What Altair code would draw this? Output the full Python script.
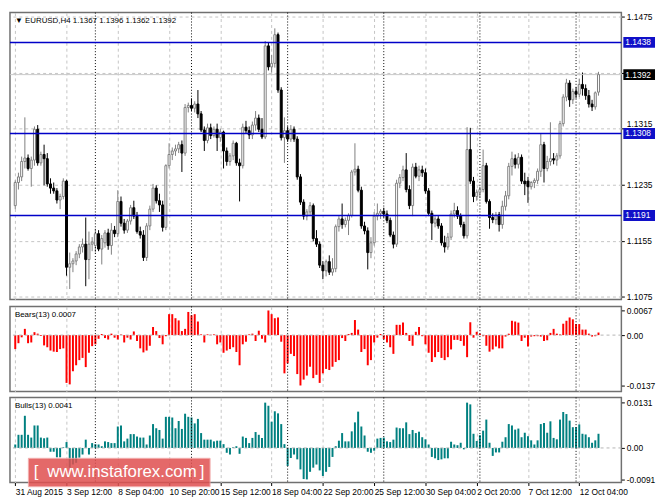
import altair as alt
import pandas as pd

# ---------------- data ----------------
OPEN = [1.1205,1.1238,1.1246,1.1268,1.1273,1.1258,1.1270,1.1314,1.1266,1.1278,
        1.1272,1.1236,1.1230,1.1226,1.1213,1.1218,1.1240,1.1117,1.1122,1.1126,
        1.1136,1.1146,1.1150,1.1128,1.1150,1.1148,1.1165,1.1143,1.1152,1.1166,
        1.1148,1.1170,1.1165,1.1211,1.1180,1.1170,1.1183,1.1202,1.1190,1.1168,
        1.1163,1.1131,1.1176,1.1200,1.1230,1.1212,1.1206,1.1174,1.1262,1.1278,
        1.1283,1.1286,1.1292,1.1280,1.1345,1.1348,1.1344,1.1350,1.1336,1.1313,
        1.1298,1.1316,1.1305,1.1314,1.1302,1.1310,1.1283,1.1268,1.1276,1.1294,
        1.1266,1.1262,1.1317,1.1312,1.1306,1.1320,1.1330,1.1314,1.1303,1.1433,
        1.1403,1.1408,1.1449,1.1370,1.1302,1.1312,1.1300,1.1314,1.1300,1.1246,
        1.1210,1.1190,1.1196,1.1205,1.1158,1.1150,1.1120,1.1112,1.1125,1.1110,
        1.1115,1.1175,1.1186,1.1178,1.1184,1.1191,1.1253,1.1257,1.1227,1.1176,
        1.1169,1.1138,1.1152,1.1190,1.1194,1.1197,1.1193,1.1184,1.1163,1.1150,
        1.1237,1.1245,1.1256,1.1228,1.1205,1.1260,1.1247,1.1256,1.1252,1.1226,
        1.1194,1.1180,1.1186,1.1176,1.1152,1.1146,1.1160,1.1193,1.1198,1.1190,
        1.1178,1.1162,1.1285,1.1240,1.1218,1.1224,1.1228,1.1262,1.1211,1.1188,
        1.1185,1.1192,1.1178,1.1204,1.1219,1.1261,1.1272,1.1264,1.1274,1.1240,
        1.1240,1.1232,1.1238,1.1241,1.1254,1.1292,1.1258,1.1268,1.1272,1.1270,
        1.1276,1.1322,1.1360,1.1380,1.1356,1.1368,1.1364,1.1378,1.1372,1.1362,
        1.1350,1.1346,1.1367]
HIGH = [1.1241,1.1252,1.1275,1.1331,1.1278,1.1275,1.1318,1.1320,1.1282,1.1292,
        1.1280,1.1244,1.1238,1.1230,1.1222,1.1244,1.1242,1.1138,1.1130,1.1140,
        1.1150,1.1158,1.1188,1.1168,1.1160,1.1172,1.1170,1.1163,1.1170,1.1172,
        1.1180,1.1176,1.1227,1.1218,1.1186,1.1186,1.1206,1.1212,1.1196,1.1175,
        1.1170,1.1180,1.1205,1.1236,1.1234,1.1222,1.1212,1.1264,1.1294,1.1288,
        1.1292,1.1296,1.1298,1.1350,1.1352,1.1358,1.1354,1.1370,1.1340,1.1318,
        1.1322,1.1322,1.1318,1.1322,1.1315,1.1312,1.1288,1.1280,1.1298,1.1296,
        1.1272,1.1322,1.1326,1.1318,1.1325,1.1340,1.1335,1.1330,1.1440,1.1438,
        1.1420,1.1458,1.1452,1.1374,1.1331,1.1318,1.1320,1.1318,1.1304,1.1250,
        1.1214,1.1200,1.1210,1.1208,1.1170,1.1154,1.1126,1.1128,1.1134,1.1130,
        1.1178,1.1190,1.1208,1.1188,1.1194,1.1256,1.1294,1.1262,1.1232,1.1182,
        1.1174,1.1160,1.1196,1.1208,1.1200,1.1202,1.1198,1.1188,1.1168,1.1242,
        1.1250,1.1262,1.1280,1.1234,1.1265,1.1266,1.1262,1.1262,1.1258,1.1230,
        1.1198,1.1190,1.1190,1.1180,1.1162,1.1166,1.1198,1.1209,1.1204,1.1194,
        1.1182,1.1317,1.1316,1.1246,1.1228,1.1232,1.1285,1.1266,1.1214,1.1194,
        1.1196,1.1196,1.1212,1.1226,1.1266,1.1282,1.1278,1.1280,1.1278,1.1252,
        1.1246,1.1240,1.1244,1.1258,1.1308,1.1296,1.1276,1.1324,1.1280,1.1280,
        1.1326,1.1364,1.1386,1.1384,1.1372,1.1374,1.1386,1.1395,1.1378,1.1370,
        1.1356,1.1368,1.1396]
LOW = [1.1200,1.1228,1.1240,1.1258,1.1255,1.1232,1.1262,1.1262,1.1262,1.1234,
       1.1232,1.1222,1.1222,1.1208,1.1200,1.1214,1.1105,1.1086,1.1110,1.1120,
       1.1130,1.1138,1.1090,1.1100,1.1140,1.1138,1.1140,1.1121,1.1145,1.1142,
       1.1135,1.1160,1.1160,1.1175,1.1165,1.1166,1.1178,1.1186,1.1165,1.1158,
       1.1126,1.1126,1.1170,1.1196,1.1208,1.1196,1.1168,1.1170,1.1258,1.1270,
       1.1276,1.1280,1.1253,1.1276,1.1338,1.1340,1.1338,1.1330,1.1310,1.1283,
       1.1294,1.1300,1.1302,1.1283,1.1296,1.1258,1.1262,1.1262,1.1270,1.1262,
       1.1211,1.1258,1.1308,1.1300,1.1300,1.1312,1.1310,1.1300,1.1300,1.1398,
       1.1395,1.1402,1.1366,1.1298,1.1266,1.1296,1.1296,1.1296,1.1242,1.1206,
       1.1185,1.1184,1.1190,1.1154,1.1146,1.1116,1.1100,1.1104,1.1106,1.1105,
       1.1110,1.1168,1.1172,1.1174,1.1163,1.1188,1.1248,1.1224,1.1172,1.1164,
       1.1114,1.1130,1.1148,1.1184,1.1186,1.1188,1.1180,1.1160,1.1144,1.1146,
       1.1230,1.1240,1.1224,1.1200,1.1190,1.1244,1.1240,1.1246,1.1222,1.1190,
       1.1156,1.1174,1.1172,1.1148,1.1138,1.1142,1.1156,1.1188,1.1186,1.1174,
       1.1158,1.1158,1.1236,1.1210,1.1212,1.1216,1.1224,1.1208,1.1172,1.1180,
       1.1178,1.1168,1.1172,1.1198,1.1214,1.1248,1.1258,1.1258,1.1236,1.1220,
       1.1209,1.1228,1.1230,1.1236,1.1246,1.1238,1.1254,1.1262,1.1264,1.1262,
       1.1272,1.1318,1.1354,1.1346,1.1350,1.1358,1.1360,1.1362,1.1356,1.1345,
       1.1340,1.1342,1.1362]
CLOSE = [1.1238,1.1246,1.1268,1.1273,1.1258,1.1270,1.1314,1.1266,1.1278,1.1272,
         1.1236,1.1230,1.1226,1.1213,1.1218,1.1240,1.1117,1.1122,1.1126,1.1136,
         1.1146,1.1150,1.1128,1.1150,1.1153,1.1165,1.1143,1.1158,1.1166,1.1148,
         1.1170,1.1165,1.1211,1.1180,1.1170,1.1183,1.1202,1.1190,1.1168,1.1163,
         1.1131,1.1176,1.1200,1.1230,1.1212,1.1206,1.1174,1.1262,1.1278,1.1283,
         1.1286,1.1292,1.1280,1.1345,1.1348,1.1344,1.1350,1.1336,1.1313,1.1298,
         1.1316,1.1305,1.1314,1.1302,1.1310,1.1283,1.1268,1.1276,1.1294,1.1266,
         1.1262,1.1317,1.1312,1.1306,1.1320,1.1330,1.1314,1.1303,1.1433,1.1403,
         1.1408,1.1449,1.1370,1.1302,1.1312,1.1300,1.1314,1.1300,1.1246,1.1210,
         1.1190,1.1196,1.1205,1.1158,1.1150,1.1120,1.1112,1.1125,1.1110,1.1115,
         1.1175,1.1186,1.1178,1.1184,1.1191,1.1253,1.1257,1.1227,1.1176,1.1169,
         1.1138,1.1152,1.1190,1.1194,1.1197,1.1193,1.1184,1.1163,1.1150,1.1237,
         1.1245,1.1256,1.1228,1.1205,1.1260,1.1247,1.1256,1.1252,1.1226,1.1194,
         1.1180,1.1186,1.1176,1.1152,1.1146,1.1160,1.1193,1.1198,1.1190,1.1178,
         1.1162,1.1285,1.1240,1.1218,1.1224,1.1228,1.1262,1.1211,1.1188,1.1185,
         1.1192,1.1178,1.1204,1.1219,1.1261,1.1272,1.1264,1.1274,1.1240,1.1236,
         1.1232,1.1238,1.1241,1.1254,1.1292,1.1258,1.1268,1.1272,1.1270,1.1276,
         1.1322,1.1360,1.1380,1.1356,1.1368,1.1364,1.1378,1.1372,1.1362,1.1350,
         1.1346,1.1366,1.1392]
BEARS = [-0.0038,-0.0022,-0.0006,0.0017,-0.0022,-0.0020,0.0008,0.0004,-0.0002,-0.0028,
         -0.0033,-0.0042,-0.0045,-0.0046,-0.0038,-0.0036,-0.0130,-0.0134,-0.0098,-0.0082,
         -0.0068,-0.0062,-0.0087,-0.0048,-0.0030,-0.0025,-0.0010,0.0003,-0.0008,-0.0012,
         0.0004,-0.0007,-0.0012,0.0002,-0.0020,-0.0007,-0.0012,0.0010,-0.0016,-0.0036,
         -0.0047,-0.0042,-0.0029,0.0022,0.0011,-0.0008,-0.0025,-0.0003,0.0057,0.0057,
         0.0046,0.0040,0.0011,0.0017,0.0063,0.0054,0.0057,0.0037,0.0002,-0.0020,
         0.0002,0.0001,0.0002,-0.0025,-0.0020,-0.0048,-0.0042,-0.0038,-0.0033,-0.0046,
         -0.0082,-0.0025,-0.0018,0.0002,0.0004,-0.0016,0.0012,-0.0010,-0.0020,0.0067,
         0.0057,0.0046,0.0048,-0.0018,-0.0104,-0.0077,-0.0051,-0.0057,-0.0106,-0.0137,
         -0.0121,-0.0110,-0.0086,-0.0117,-0.0108,-0.0130,-0.0104,-0.0092,-0.0095,-0.0086,
         -0.0073,-0.0068,-0.0008,-0.0016,0.0003,0.0006,0.0041,0.0015,-0.0046,-0.0038,
         -0.0082,-0.0068,-0.0020,-0.0007,0.0003,-0.0011,-0.0020,-0.0033,-0.0051,0.0028,
         0.0028,0.0034,0.0006,-0.0016,-0.0029,0.0009,0.0022,-0.0003,-0.0025,-0.0048,
         -0.0073,-0.0060,-0.0046,-0.0062,-0.0068,-0.0060,-0.0039,-0.0013,-0.0013,-0.0016,
         -0.0029,-0.0060,0.0035,-0.0007,0.0009,0.0004,-0.0003,-0.0029,-0.0045,-0.0039,
         -0.0031,-0.0036,-0.0036,-0.0004,0.0004,0.0039,0.0037,0.0034,-0.0016,-0.0007,
         -0.0031,-0.0004,-0.0003,-0.0003,-0.0004,-0.0016,-0.0014,0.0006,0.0017,0.0004,
         0.0002,0.0031,0.0039,0.0048,0.0043,0.0030,0.0030,0.0015,0.0015,0.0004,
         -0.0004,-0.0003,0.0007]
BULLS = [0.0010,0.0038,0.0038,0.0093,0.0038,0.0030,0.0065,0.0065,0.0030,0.0028,
         0.0030,-0.0011,-0.0011,-0.0027,-0.0027,0.0002,0.0017,-0.0057,-0.0048,-0.0043,
         -0.0028,-0.0019,0.0024,-0.0019,0.0014,0.0011,0.0010,0.0005,0.0019,0.0017,
         0.0014,0.0014,0.0062,0.0065,0.0019,0.0027,0.0040,0.0040,0.0033,0.0030,
         0.0030,0.0010,0.0036,0.0069,0.0057,0.0052,0.0027,0.0090,0.0090,0.0088,
         0.0057,0.0078,0.0055,0.0099,0.0090,0.0088,0.0071,0.0084,0.0043,0.0024,
         0.0024,0.0024,0.0019,0.0021,0.0021,0.0011,-0.0014,-0.0019,0.0002,0.0005,
         -0.0017,0.0033,0.0029,0.0014,0.0029,0.0046,0.0038,0.0029,0.0131,0.0122,
         0.0076,0.0106,0.0100,0.0069,0.0011,-0.0052,-0.0029,-0.0019,-0.0033,-0.0062,
         -0.0090,-0.0091,-0.0069,-0.0057,-0.0048,-0.0065,-0.0081,-0.0069,-0.0055,-0.0026,
         0.0005,0.0021,0.0043,0.0019,0.0019,0.0048,0.0074,0.0105,0.0062,0.0036,
         -0.0011,-0.0014,-0.0008,0.0027,0.0029,0.0030,0.0019,0.0017,0.0024,0.0059,
         0.0057,0.0057,0.0074,0.0040,0.0052,0.0043,0.0047,0.0031,0.0025,0.0010,
         -0.0026,-0.0030,-0.0035,-0.0033,-0.0030,-0.0030,0.0018,0.0010,0.0008,0.0015,
         -0.0004,0.0131,0.0126,0.0041,0.0020,0.0037,0.0050,0.0082,0.0015,-0.0023,
         -0.0013,-0.0013,0.0018,0.0031,0.0069,0.0065,0.0053,0.0056,0.0031,0.0044,
         0.0034,0.0022,0.0010,0.0022,0.0069,0.0072,0.0044,0.0077,0.0029,0.0025,
         0.0082,0.0104,0.0098,0.0079,0.0060,0.0060,0.0068,0.0041,0.0039,0.0031,
         0.0015,0.0022,0.0041]

TIME_LABELS = {0: "31 Aug 2015", 16: "3 Sep 12:00", 32: "8 Sep 04:00", 48: "10 Sep 20:00",
               64: "15 Sep 12:00", 80: "18 Sep 04:00", 96: "22 Sep 20:00", 112: "25 Sep 12:00",
               128: "30 Sep 04:00", 144: "2 Oct 20:00", 160: "7 Oct 12:00", 176: "12 Oct 04:00"}
WEEK_SEPARATORS = [25, 55, 85, 115, 145, 175]
PRICE_TICKS = [1.1075, 1.1115, 1.1155, 1.1195, 1.1235, 1.1275, 1.1315, 1.1355, 1.1395, 1.1435, 1.1475]
LEVELS = [1.1438, 1.1308, 1.1191]
LEVEL_TEXT = ["1.1438", "1.1308", "1.1191"]
BID = [1.1392]
BID_TEXT = ["1.1392"]
BEARS_TICKS = [0.0067, 0.0, -0.0137]
BULLS_TICKS = [0.0131, 0.0, -0.0091]

# ---------------- tables ----------------
n = min(len(OPEN), len(HIGH), len(LOW), len(CLOSE), len(BEARS), len(BULLS))
df = pd.DataFrame({"i": list(range(n)), "open": OPEN[:n], "high": HIGH[:n],
                   "low": LOW[:n], "close": CLOSE[:n],
                   "bears": BEARS[:n], "bulls": BULLS[:n]})
df["dir"] = ["up" if c >= o else "down" for o, c in zip(df["open"], df["close"])]
sep_df = pd.DataFrame({"i": WEEK_SEPARATORS})
LBL_H = 0.00078
lev_df = pd.DataFrame({"v": LEVELS, "t": LEVEL_TEXT})
lev_df["lo"] = lev_df["v"] - LBL_H
lev_df["hi"] = lev_df["v"] + LBL_H
bid_df = pd.DataFrame({"v": BID, "t": BID_TEXT})
bid_df["lo"] = bid_df["v"] - LBL_H
bid_df["hi"] = bid_df["v"] + LBL_H

W = 618
MAIN_H = 290
SUB_H = 86
FONT = "Liberation Sans"
XDOM = [-0.1, 187.6]
grid_vals = list(range(0, 188, 8))

def xs():
    return alt.Scale(domain=XDOM, nice=False, zero=False)

def x_axis_plain():
    return alt.Axis(values=grid_vals, grid=True, labels=False, ticks=False, domain=False, title=None)

label_expr = " : ".join([f"datum.value == {k} ? '{v}'" for k, v in TIME_LABELS.items()]) + " : ''"

# ---------------- main price pane ----------------
pscale = alt.Scale(domain=[1.1071, 1.14805], nice=False, zero=False)
base = alt.Chart(df)
hide = "indexof(['1.1435','1.1395','1.1195'], datum.label) >= 0 ? '' : datum.label"

wicks = base.mark_rule(strokeWidth=1).encode(
    x=alt.X("i:Q", scale=xs(), axis=x_axis_plain()),
    y=alt.Y("low:Q", scale=pscale,
            axis=alt.Axis(orient="right", values=PRICE_TICKS, format=".4f", labelExpr=hide,
                          labelBaseline={"condition": {"test": "datum.value > 1.1312 && datum.value < 1.1318",
                                                       "value": "bottom"}, "value": "middle"},
                          grid=True, domain=False, tickSize=3, labelPadding=2, title=None)),
    y2="high:Q",
    color=alt.Color("dir:N", scale=alt.Scale(domain=["up", "down"], range=["#808080", "#000000"]), legend=None),
)
bodies = base.mark_bar(size=2, strokeWidth=1).encode(
    x=alt.X("i:Q", scale=xs()),
    y=alt.Y("open:Q", scale=pscale),
    y2="close:Q",
    fill=alt.Fill("dir:N", scale=alt.Scale(domain=["up", "down"], range=["#ffffff", "#000000"]), legend=None),
    stroke=alt.Stroke("dir:N", scale=alt.Scale(domain=["up", "down"], range=["#808080", "#000000"]), legend=None),
)
seps_main = alt.Chart(sep_df).mark_rule(color="#000000", strokeDash=[1, 2], strokeWidth=1).encode(
    x=alt.X("i:Q", scale=xs()))
bid_line = alt.Chart(bid_df).mark_rule(color="#c8c8c8", strokeWidth=1).encode(
    y=alt.Y("v:Q", scale=pscale))
lev_lines = alt.Chart(lev_df).mark_rule(color="#0000c8", strokeWidth=1.5).encode(
    y=alt.Y("v:Q", scale=pscale))
lev_box = alt.Chart(lev_df).mark_rect(color="#1010c8").encode(
    x=alt.value(W + 2), x2=alt.value(W + 34),
    y=alt.Y("lo:Q", scale=pscale), y2="hi:Q")
lev_txt = alt.Chart(lev_df).mark_text(color="white", align="left", baseline="middle",
                                      font=FONT, fontSize=8.5).encode(
    x=alt.value(W + 4), y=alt.Y("v:Q", scale=pscale), text="t:N")
bid_box = alt.Chart(bid_df).mark_rect(color="#000000").encode(
    x=alt.value(W + 2), x2=alt.value(W + 34),
    y=alt.Y("lo:Q", scale=pscale), y2="hi:Q")
bid_txt = alt.Chart(bid_df).mark_text(color="white", align="left", baseline="middle",
                                      font=FONT, fontSize=8.5).encode(
    x=alt.value(W + 4), y=alt.Y("v:Q", scale=pscale), text="t:N")
title_main = alt.Chart(pd.DataFrame({"t": ["\u25BC EURUSD,H4  1.1367 1.1396 1.1362 1.1392"]})).mark_text(
    align="left", baseline="middle", font=FONT, fontSize=8, color="#000000").encode(
    x=alt.value(5), y=alt.value(8), text="t:N")

main = alt.layer(wicks, seps_main, bid_line, bodies, lev_lines, lev_box, lev_txt,
                 bid_box, bid_txt, title_main).properties(width=W, height=MAIN_H)

# ---------------- bears pane ----------------
bscale = alt.Scale(domain=[-0.01534, 0.0078], nice=False, zero=False)
bears_bars = base.mark_bar(size=2, color="#ff0000").encode(
    x=alt.X("i:Q", scale=xs(), axis=x_axis_plain()),
    y=alt.Y("bears:Q", scale=bscale,
            axis=alt.Axis(orient="right", values=BEARS_TICKS, grid=False, domain=False, tickSize=3,
                          labelPadding=2, title=None,
                          labelExpr="datum.value == 0 ? '0.00' : (datum.value > 0 ? '0.0067' : '-0.0137')")),
    y2=alt.datum(0),
)
bears_zero = alt.Chart(pd.DataFrame({"z": [0.0]})).mark_rule(color="#b4b4b4", strokeDash=[3, 3]).encode(
    y=alt.Y("z:Q", scale=bscale))
seps_b = alt.Chart(sep_df).mark_rule(color="#000000", strokeDash=[1, 2], strokeWidth=1).encode(
    x=alt.X("i:Q", scale=xs()))
bears_title = alt.Chart(pd.DataFrame({"t": ["Bears(13) 0.0007"]})).mark_text(
    align="left", baseline="middle", font=FONT, fontSize=8, color="#000000").encode(
    x=alt.value(5), y=alt.value(9), text="t:N")
bears = alt.layer(bears_bars, bears_zero, seps_b, bears_title).properties(width=W, height=SUB_H)

# ---------------- bulls pane ----------------
uscale = alt.Scale(domain=[-0.0100, 0.0146], nice=False, zero=False)
bulls_bars = base.mark_bar(size=2, color="#008080").encode(
    x=alt.X("i:Q", scale=xs(),
            axis=alt.Axis(values=grid_vals, grid=True, labels=True, labelExpr=label_expr,
                          labelAlign="left", labelBaseline="top", labelPadding=2, tickSize=3,
                          labelOverlap=False, labelFlush=False, domain=False, title=None)),
    y=alt.Y("bulls:Q", scale=uscale,
            axis=alt.Axis(orient="right", values=BULLS_TICKS, grid=False, domain=False, tickSize=3,
                          labelPadding=2, title=None,
                          labelExpr="datum.value == 0 ? '0.00' : (datum.value > 0 ? '0.0131' : '-0.0091')")),
    y2=alt.datum(0),
)
bulls_zero = alt.Chart(pd.DataFrame({"z": [0.0]})).mark_rule(color="#b4b4b4", strokeDash=[3, 3]).encode(
    y=alt.Y("z:Q", scale=uscale))
seps_u = alt.Chart(sep_df).mark_rule(color="#000000", strokeDash=[1, 2], strokeWidth=1).encode(
    x=alt.X("i:Q", scale=xs()))
bulls_title = alt.Chart(pd.DataFrame({"t": ["Bulls(13) 0.0041"]})).mark_text(
    align="left", baseline="middle", font=FONT, fontSize=8, color="#000000").encode(
    x=alt.value(5), y=alt.value(9), text="t:N")
wm = pd.DataFrame({"x1": [4.1], "x2": [60.8], "y1": [-0.0030], "y2": [-0.0112]})
wm_box = alt.Chart(wm).mark_rect(color="#e05050", opacity=0.85, stroke="#f0a0a0", strokeWidth=1).encode(
    x=alt.X("x1:Q", scale=xs()), x2="x2:Q", y=alt.Y("y1:Q", scale=uscale), y2="y2:Q")
wm_txt = alt.Chart(pd.DataFrame({"x": [6.5, 33.3, 58.3], "y": [-0.0071] * 3,
                                 "t": ["[", "www.instaforex.com", "]"]})).mark_text(
    color="white", font=FONT, fontSize=17, align="center", baseline="middle").encode(
    x=alt.X("x:Q", scale=xs()), y=alt.Y("y:Q", scale=uscale), text="t:N")
bulls = alt.layer(bulls_bars, bulls_zero, seps_u, bulls_title, wm_box, wm_txt).properties(width=W, height=SUB_H)

chart = alt.vconcat(main, bears, bulls, spacing=2).properties(
    padding=0, background="white"
).configure_view(
    stroke="#707070", strokeWidth=1.5
).configure_axis(
    labelFont=FONT, labelFontSize=8.5, labelColor="#000000", tickColor="#000000",
    gridColor="#c4c4c4", gridDash=[3, 3], gridWidth=1
)

chart.save("out.html", embed_options={"renderer": "svg", "actions": False})
